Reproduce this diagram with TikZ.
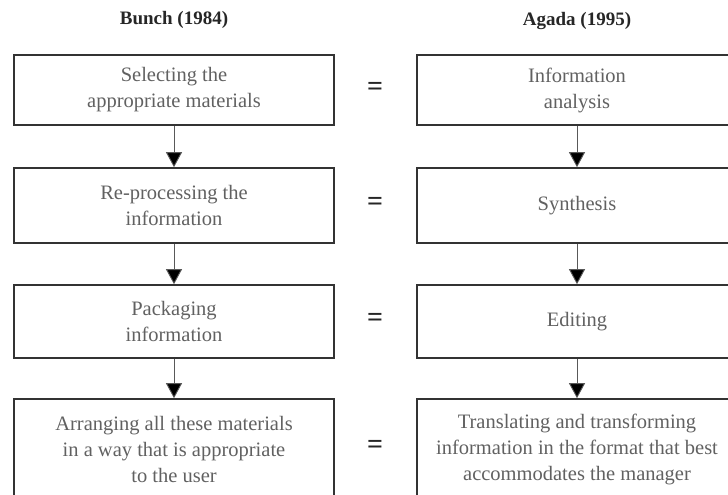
\documentclass[tikz,border=0pt]{standalone}
\usepackage{fontspec}
\setmainfont{Liberation Serif}
\usepackage{tikz}
\usetikzlibrary{arrows.meta}

\begin{document}
\begin{tikzpicture}[x=1pt,y=1pt,
    stage/.style={draw=black!80, line width=1.6pt, text=black!62, align=center,
      minimum width=320pt, inner sep=0pt, font=\fontsize{20.5}{26}\selectfont},
    head/.style={font=\fontsize{19}{23}\selectfont\bfseries, text=black!85},
    eq/.style={font=\fontsize{28}{28}\selectfont\bfseries, text=black!85},
    flow/.style={draw=black!65, line width=0.9pt, -{Triangle[width=16pt,length=15pt,fill=black]}}]
    \useasboundingbox (0,0) rectangle (728,-495);
    \node[head] (bunch) at (174,-20) {Bunch (1984)};
    \node[head] (agada) at (577,-21) {Agada (1995)};
    % left column
    \node[stage, minimum height=70pt] (b1) at (174,-90) {Selecting the\\appropriate materials};
    \node[stage, minimum height=75pt] (b2) at (174,-205.5) {Re-processing the\\information};
    \node[stage, minimum height=73pt] (b3) at (174,-321.5) {Packaging\\information};
    \node[stage, minimum height=101pt] (b4) at (174,-449.5) {Arranging all these materials\\in a way that is appropriate\\to the user};
    % right column
    \node[stage, minimum height=70pt] (a1) at (577,-90) {Information\\analysis};
    \node[stage, minimum height=75pt] (a2) at (577,-205.5) {Synthesis};
    \node[stage, minimum height=73pt] (a3) at (577,-321.5) {Editing};
    \node[stage, minimum height=101pt] (a4) at (577,-449.5) {Translating and transforming\\information in the format that best\\accommodates the manager};
    \node[eq] (e1) at (375,-89) {=};
    \node[eq] (e2) at (375,-204) {=};
    \node[eq] (e3) at (375,-320) {=};
    \node[eq] (e4) at (375,-447) {=};
    \draw[flow] (b1.south) -- (b2.north);
    \draw[flow] (b2.south) -- (b3.north);
    \draw[flow] (b3.south) -- (b4.north);
    \draw[flow] (a1.south) -- (a2.north);
    \draw[flow] (a2.south) -- (a3.north);
    \draw[flow] (a3.south) -- (a4.north);
\end{tikzpicture}
\end{document}
